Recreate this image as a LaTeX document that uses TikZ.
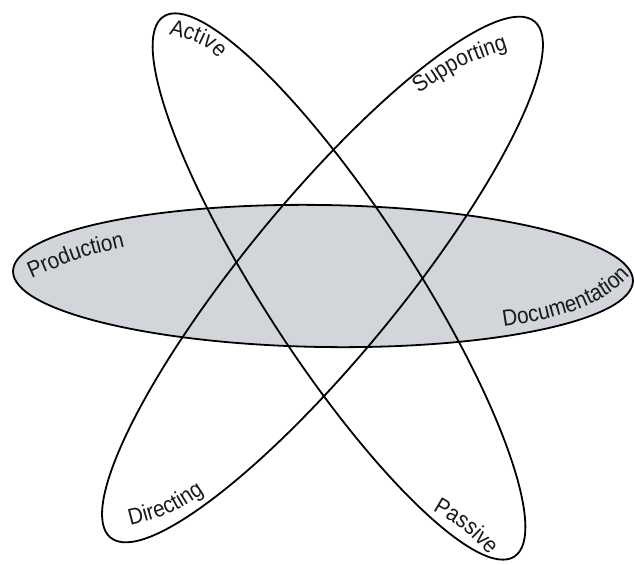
\documentclass[tikz,border=0pt]{standalone}
\usepackage{fontspec}
\setmainfont[FakeStretch=0.9]{Liberation Sans}
\usetikzlibrary{decorations.text}
\definecolor{ovalgray}{RGB}{210,213,217}
\newcommand\lblfont{\fontsize{23}{23}\selectfont}

\begin{document}
\begin{tikzpicture}[x=1pt,y=-1pt,line width=1.8pt,
  lbl/.style={decorate,decoration={text along path,text align=center,text color=black!90}}]
\useasboundingbox (0,0) rectangle (635,565);
% ---------- ovals ----------
% Production -- Documentation (shaded)
\draw[fill=ovalgray] (323,276) circle [x radius=310,y radius=71,rotate=-0.9];
% Active -- Passive
\draw (339,286.5) circle [x radius=322,y radius=75,rotate=-57];
% Supporting -- Directing
\draw (322.5,279.5) circle [x radius=334,y radius=78,rotate=50.6];
% ---------- labels ----------
% outer side of the tips
\path[lbl,decoration={text={|\lblfont|Active}}]
  (155.3,30.4) .. controls (206,44) .. (227.4,69.7);
\path[lbl,decoration={text={|\lblfont|Supporting}}]
  (404.8,103.7) .. controls (460.5,64.7) .. (524.5,43.9);
\path[lbl,decoration={text={|\lblfont|Production}}]
  (22.6,282.4) .. controls (78.5,257.5) .. (134.7,244.4);
% inner side of the tips
\path[lbl,decoration={text={|\lblfont|Documentation}}]
  (494,328) .. controls (560,320) and (610,304) .. (636,268);
\path[lbl,decoration={text={|\lblfont|Directing}}]
  (115.3,529.4) .. controls (171.4,515.4) .. (217.3,484.4);
\path[lbl,decoration={text={|\lblfont|Passive}}]
  (423.4,504.9) .. controls (464.9,528.9) .. (496,563.3);
\end{tikzpicture}
\end{document}
